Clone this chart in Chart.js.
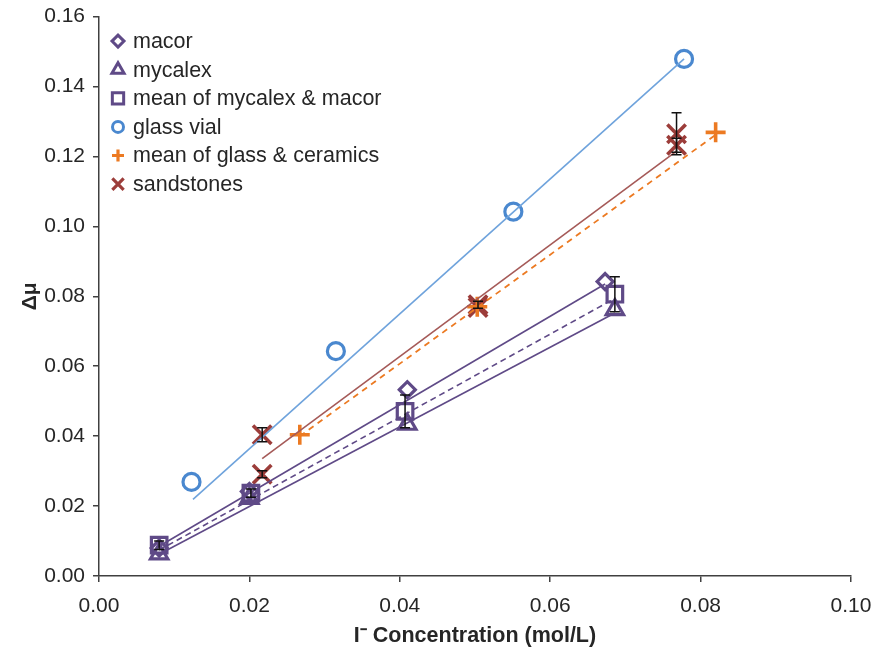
<!DOCTYPE html>
<html>
<head>
<meta charset="utf-8">
<script src="https://cdn.jsdelivr.net/npm/chart.js@4/dist/chart.umd.min.js"></script>
<style>
  html, body { margin: 0; padding: 0; background: #fff; }
  #wrap { position: relative; width: 878px; height: 647px; }
</style>
</head>
<body>
<div id="wrap"><canvas id="c" width="878" height="647"></canvas></div>
<script>
// ---------- data ----------
const xTicks = [0.00, 0.02, 0.04, 0.06, 0.08, 0.10];
const yTicks = [0.00, 0.02, 0.04, 0.06, 0.08, 0.10, 0.12, 0.14, 0.16];

const seriesNames = ["macor", "mycalex", "mean of mycalex & macor", "glass vial", "mean of glass & ceramics", "sandstones"];

const macorX = [0.0080, 0.0200, 0.0410, 0.0673];
const macorY = [0.0080, 0.0242, 0.0533, 0.0842];

const mycalexX = [0.0080, 0.0200, 0.0410, 0.0686];
const mycalexY = [0.0063, 0.0222, 0.0434, 0.0762];

const meanMMX = [0.0080, 0.0202, 0.0407, 0.0686];
const meanMMY = [0.0088, 0.0237, 0.0471, 0.0806];
const meanMMErr = [0.0012, 0.0012, 0.0047, 0.0050];

const glassX = [0.0123, 0.0315, 0.0551, 0.0778];
const glassY = [0.0269, 0.0643, 0.1042, 0.1479];

const glassCerX = [0.0267, 0.0503, 0.0820];
const glassCerY = [0.0404, 0.0770, 0.1269];

const sandX = [0.0217, 0.0217, 0.0504, 0.0504, 0.0768, 0.0768];
const sandY = [0.0404, 0.0291, 0.0776, 0.0768, 0.1265, 0.1232];
const sandErr = [0.0020, 0.0010, 0.0010, 0.0000, 0.0060, 0.0020];

// trendline end points
const macorTrendX = [0.0080, 0.0673];
const macorTrendY = [0.0085, 0.0835];
const mycalexTrendX = [0.0080, 0.0686];
const mycalexTrendY = [0.0062, 0.0752];
const meanMMTrendX = [0.0080, 0.0686];
const meanMMTrendY = [0.0074, 0.0794];
const glassTrendX = [0.0125, 0.0778];
const glassTrendY = [0.0219, 0.1479];
const glassCerTrendX = [0.0267, 0.0820];
const glassCerTrendY = [0.0400, 0.1262];
const sandTrendX = [0.0217, 0.0768];
const sandTrendY = [0.0336, 0.1215];

// ---------- styling ----------
const PURPLE = '#5f4a87';
const BLUE = '#4a88cf';
const BLUE_LINE = '#6fa3dc';
const ORANGE = '#ec7a22';
const RED = '#9c3d3a';
const RED_LINE = '#a55a58';
const TEXT = '#262626';
const AXIS = '#404040';
const FONT = "'Liberation Sans', Arial, sans-serif";

const pts = (xs, ys) => xs.map((x, i) => ({ x: x, y: ys[i] }));

function markerDs(label, xs, ys, style, color, radius, bw, errs) {
  return {
    label: label, data: pts(xs, ys), showLine: false,
    pointStyle: style, pointRadius: radius, pointHoverRadius: radius,
    pointBorderWidth: bw, pointBorderColor: color,
    pointBackgroundColor: 'rgba(0,0,0,0)', borderColor: color,
    backgroundColor: 'rgba(0,0,0,0)', errors: errs || null
  };
}
function trendDs(xs, ys, color, dash, width) {
  return {
    label: '', data: pts(xs, ys), showLine: true, pointRadius: 0,
    borderColor: color, borderWidth: width || 1.6, borderDash: dash || [],
    fill: false
  };
}

const datasets = [
  trendDs(macorTrendX, macorTrendY, PURPLE),
  trendDs(mycalexTrendX, mycalexTrendY, PURPLE),
  trendDs(meanMMTrendX, meanMMTrendY, PURPLE, [6, 4]),
  trendDs(glassTrendX, glassTrendY, BLUE_LINE),
  trendDs(glassCerTrendX, glassCerTrendY, ORANGE, [6, 5], 1.8),
  trendDs(sandTrendX, sandTrendY, RED_LINE),
  markerDs(seriesNames[0], macorX, macorY, 'rectRot', PURPLE, 8, 3.2),
  markerDs(seriesNames[1], mycalexX, mycalexY, 'triangle', PURPLE, 10, 3.2),
  markerDs(seriesNames[2], meanMMX, meanMMY, 'rect', PURPLE, 11, 3.2, meanMMErr),
  markerDs(seriesNames[3], glassX, glassY, 'circle', BLUE, 8.5, 3.2),
  markerDs(seriesNames[4], glassCerX, glassCerY, 'cross', ORANGE, 10, 3.6),
  markerDs(seriesNames[5], sandX, sandY, 'crossRot', RED, 13, 3.6, sandErr)
];

// error bars
const errorBarPlugin = {
  id: 'errorBars',
  afterDatasetsDraw(chart) {
    const ctx = chart.ctx;
    const xs = chart.scales.x, ys = chart.scales.y;
    ctx.save();
    ctx.strokeStyle = '#111';
    ctx.lineWidth = 1.5;
    chart.data.datasets.forEach(ds => {
      if (!ds.errors) return;
      ds.data.forEach((p, i) => {
        const e = ds.errors[i];
        if (!e) return;
        const px = xs.getPixelForValue(p.x);
        const top = ys.getPixelForValue(p.y + e);
        const bot = ys.getPixelForValue(p.y - e);
        ctx.beginPath();
        ctx.moveTo(px, top); ctx.lineTo(px, bot);
        ctx.moveTo(px - 5, top); ctx.lineTo(px + 5, top);
        ctx.moveTo(px - 5, bot); ctx.lineTo(px + 5, bot);
        ctx.stroke();
      });
    });
    ctx.restore();
  }
};

// legend drawn inside chart area
const legendStyles = [
  { style: 'rectRot', color: PURPLE, r: 6, bw: 3 },
  { style: 'triangle', color: PURPLE, r: 7, bw: 3 },
  { style: 'rect', color: PURPLE, r: 8, bw: 3 },
  { style: 'circle', color: BLUE, r: 5.5, bw: 3 },
  { style: 'cross', color: ORANGE, r: 6, bw: 3.2 },
  { style: 'crossRot', color: RED, r: 8, bw: 3.2 }
];
const insideLegend = {
  id: 'insideLegend',
  afterDraw(chart) {
    const ctx = chart.ctx;
    ctx.save();
    const x0 = chart.chartArea.left + 19;
    const y0 = chart.chartArea.top + 24.5;
    const step = 28.6;
    seriesNames.forEach((name, i) => {
      const s = legendStyles[i];
      const y = y0 + i * step;
      ctx.strokeStyle = s.color;
      ctx.fillStyle = 'rgba(0,0,0,0)';
      ctx.lineWidth = s.bw;
      Chart.helpers.drawPoint(ctx, { pointStyle: s.style, radius: s.r, rotation: 0, borderWidth: s.bw }, x0, y);
      ctx.fillStyle = TEXT;
      ctx.font = '21.5px ' + FONT;
      ctx.textBaseline = 'middle';
      ctx.textAlign = 'left';
      ctx.fillText(name, x0 + 15, y + 1);
    });
    ctx.restore();
  }
};

new Chart(document.getElementById('c'), {
  type: 'scatter',
  data: { datasets: datasets },
  options: {
    responsive: false,
    animation: false,
    layout: { padding: { top: 15, right: 27, left: 0, bottom: 0 } },
    plugins: { legend: { display: false }, tooltip: { enabled: false } },
    scales: {
      x: {
        type: 'linear', min: xTicks[0], max: xTicks[xTicks.length - 1],
        afterFit(s) { s.height = 71; s.paddingLeft = 0; s.paddingRight = 0; },
        afterBuildTicks(s) { s.ticks = xTicks.map(v => ({ value: v })); },
        ticks: { color: TEXT, font: { family: FONT, size: 21 }, padding: 12,
                 callback: v => Number(v).toFixed(2), maxRotation: 0, autoSkip: false },
        grid: { display: true, drawOnChartArea: false, drawTicks: true, tickLength: 6, color: AXIS, lineWidth: 1.5 },
        border: { display: true, color: AXIS, width: 1.5 },
        title: { display: true, text: 'I\u207B Concentration (mol/L)', color: TEXT,
                 font: { family: FONT, size: 21.5, weight: 'bold', lineHeight: 1.0 }, padding: { top: 0, bottom: 0 } }
      },
      y: {
        type: 'linear', min: yTicks[0], max: yTicks[yTicks.length - 1],
        afterFit(s) { s.width = 99; s.paddingTop = 0; s.paddingBottom = 0; },
        afterBuildTicks(s) { s.ticks = yTicks.map(v => ({ value: v })); },
        ticks: { color: TEXT, font: { family: FONT, size: 21 }, padding: 8,
                 callback: v => Number(v).toFixed(2), autoSkip: false },
        grid: { display: true, drawOnChartArea: false, drawTicks: true, tickLength: 6, color: AXIS, lineWidth: 1.5 },
        border: { display: true, color: AXIS, width: 1.5 },
        title: { display: true, text: '\u0394\u03BC', color: TEXT,
                 font: { family: FONT, size: 21, weight: 'bold' }, padding: { top: 18, bottom: 0 } }
      }
    }
  },
  plugins: [errorBarPlugin, insideLegend]
});
</script>
</body>
</html>
